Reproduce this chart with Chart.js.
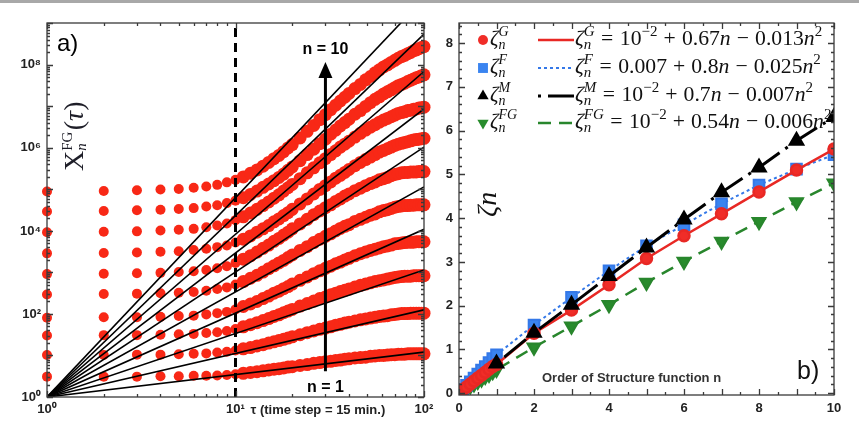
<!DOCTYPE html>
<html>
<head>
<meta charset="utf-8">
<script src="https://cdn.jsdelivr.net/npm/chart.js@4.4.0/dist/chart.umd.min.js"></script>
<style>
html, body { margin: 0; padding: 0; background: #fff; }
#wrap { position: relative; width: 859px; height: 422px; overflow: hidden; }
#topline { position: absolute; left: 0; top: 0; width: 859px; height: 3px; background: #a8a8a8; }
#left { position: absolute; left: 0; top: 0; }
#right { position: absolute; left: 430px; top: 0; }
</style>
</head>
<body>
<div id="wrap">
  <canvas id="left" width="440" height="422"></canvas>
  <canvas id="right" width="429" height="422"></canvas>
  <div id="topline"></div>
</div>
<script>
// Panel a) : structure functions X_n^FG(tau), values stored as log10
const TAU = [1,2,3,4,5,6,7,8,9,10,11,12,13,14,15,16,17,18,19,20,22,24,26,28,30,32,34,36,38,40,
  43,46,49,52,55,58,61,64,67,70,73,76,79,82,85,88,91,94,97,100];
const LOGX_N1 = [0.49,0.49,0.49,0.50,0.50,0.51,0.51,0.52,0.53,0.55,0.57,0.59,0.61,0.63,0.65,0.67,0.68,0.70,0.72,0.73,
  0.76,0.78,0.81,0.83,0.85,0.86,0.88,0.89,0.91,0.92,0.94,0.95,0.96,0.98,0.99,1.00,1.00,1.01,1.02,1.02,
  1.03,1.03,1.03,1.04,1.04,1.04,1.04,1.04,1.04,1.04];
const LOGX_N2 = [1.01,1.01,1.02,1.02,1.03,1.04,1.05,1.07,1.09,1.12,1.16,1.19,1.23,1.26,1.30,1.33,1.36,1.39,1.42,1.45,
  1.50,1.55,1.59,1.63,1.66,1.69,1.73,1.75,1.78,1.80,1.83,1.86,1.88,1.90,1.92,1.94,1.95,1.96,1.98,1.99,
  2.00,2.01,2.01,2.01,2.02,2.02,2.02,2.02,2.02,2.02];
const LOGX_N3 = [1.48,1.49,1.49,1.50,1.51,1.52,1.54,1.56,1.59,1.64,1.69,1.74,1.79,1.84,1.89,1.94,1.98,2.03,2.07,2.11,
  2.19,2.25,2.31,2.37,2.41,2.46,2.50,2.54,2.57,2.60,2.65,2.69,2.72,2.75,2.78,2.80,2.82,2.84,2.86,2.88,
  2.89,2.90,2.91,2.91,2.91,2.92,2.92,2.92,2.92,2.92];
const LOGX_N4 = [1.91,1.92,1.92,1.93,1.95,1.96,1.99,2.02,2.05,2.11,2.18,2.24,2.30,2.37,2.43,2.50,2.55,2.61,2.66,2.72,
  2.81,2.89,2.97,3.04,3.10,3.15,3.21,3.25,3.30,3.34,3.40,3.45,3.49,3.53,3.56,3.59,3.62,3.64,3.66,3.69,
  3.70,3.71,3.72,3.73,3.73,3.73,3.74,3.74,3.74,3.74];
const LOGX_N5 = [2.47,2.48,2.49,2.50,2.51,2.53,2.56,2.60,2.64,2.71,2.78,2.86,2.93,3.01,3.09,3.16,3.23,3.29,3.36,3.42,
  3.53,3.62,3.72,3.80,3.87,3.93,4.00,4.06,4.11,4.15,4.23,4.28,4.33,4.38,4.41,4.46,4.49,4.51,4.54,4.57,
  4.59,4.60,4.61,4.61,4.62,4.62,4.63,4.63,4.63,4.63];
const LOGX_N6 = [2.96,2.97,2.98,2.99,3.01,3.03,3.06,3.10,3.15,3.23,3.32,3.40,3.49,3.58,3.66,3.75,3.82,3.90,3.97,4.05,
  4.17,4.28,4.39,4.48,4.56,4.63,4.71,4.77,4.84,4.89,4.97,5.03,5.09,5.14,5.18,5.23,5.26,5.29,5.33,5.36,
  5.38,5.40,5.41,5.41,5.42,5.42,5.42,5.43,5.43,5.43];
const LOGX_N7 = [3.46,3.47,3.48,3.50,3.51,3.54,3.57,3.61,3.65,3.72,3.80,3.88,3.97,4.05,4.13,4.22,4.29,4.37,4.44,4.52,
  4.65,4.77,4.89,5.00,5.09,5.18,5.27,5.34,5.41,5.48,5.57,5.65,5.72,5.78,5.84,5.90,5.94,5.98,6.02,6.06,
  6.09,6.11,6.13,6.15,6.17,6.19,6.20,6.21,6.22,6.23];
const LOGX_N8 = [3.97,3.98,3.99,4.01,4.03,4.05,4.09,4.13,4.18,4.26,4.34,4.43,4.52,4.61,4.70,4.79,4.87,4.96,5.04,5.12,
  5.26,5.40,5.52,5.64,5.74,5.84,5.93,6.02,6.09,6.16,6.26,6.35,6.43,6.50,6.56,6.62,6.67,6.71,6.75,6.79,
  6.83,6.85,6.87,6.90,6.91,6.93,6.94,6.96,6.97,6.98];
const LOGX_N9 = [4.47,4.48,4.50,4.51,4.53,4.55,4.59,4.62,4.67,4.73,4.80,4.88,4.96,5.05,5.13,5.21,5.29,5.37,5.46,5.54,
  5.69,5.84,5.97,6.10,6.21,6.33,6.43,6.53,6.61,6.69,6.81,6.90,7.00,7.09,7.17,7.23,7.30,7.35,7.40,7.45,
  7.50,7.53,7.56,7.60,7.63,7.66,7.69,7.71,7.74,7.76];
const LOGX_N10 = [4.95,4.96,4.98,5.00,5.01,5.04,5.07,5.11,5.17,5.23,5.30,5.39,5.47,5.56,5.65,5.74,5.82,5.91,6.00,6.08,
  6.24,6.40,6.54,6.68,6.80,6.92,7.03,7.13,7.22,7.31,7.43,7.53,7.64,7.72,7.81,7.88,7.95,8.00,8.06,8.11,
  8.16,8.20,8.23,8.27,8.30,8.34,8.36,8.39,8.42,8.44];
const LOGX = [LOGX_N1, LOGX_N2, LOGX_N3, LOGX_N4, LOGX_N5, LOGX_N6, LOGX_N7, LOGX_N8, LOGX_N9, LOGX_N10];

// Panel b) : scaling exponents zeta_n
const ORDER_N = [0.1,0.2,0.3,0.4,0.5,0.6,0.7,0.8,0.9,1,2,3,4,5,6,7,8,9,10];
const ZETA_G  = [0.08,0.14,0.21,0.28,0.35,0.41,0.48,0.55,0.61,0.66,1.37,1.90,2.48,3.08,3.60,4.10,4.60,5.10,5.58];
const ZETA_F  = [0.09,0.18,0.26,0.35,0.44,0.53,0.61,0.70,0.79,0.88,1.56,2.19,2.80,3.37,3.85,4.33,4.76,5.12,5.45];
const ORDER_M = [1,2,3,4,5,6,7,8,9,10];
const ZETA_M  = [0.68,1.38,2.02,2.68,3.33,3.97,4.59,5.16,5.77,6.31];
const ZETA_FG = [0.05,0.10,0.16,0.21,0.27,0.32,0.38,0.43,0.49,0.54,1.05,1.53,2.02,2.53,3.01,3.47,3.92,4.37,4.80];

const X_TICKS = [1, 10, 100];
const X_TICK_LABELS = ['10\u2070', '10\u00b9', '10\u00b2'];
const Y_TICKS = [1, 1e2, 1e4, 1e6, 1e8];
const Y_TICK_LABELS = ['10\u2070', '10\u00b2', '10\u2074', '10\u2076', '10\u2078'];
const N_TICKS = [0, 2, 4, 6, 8, 10];
const Z_TICKS = [0, 1, 2, 3, 4, 5, 6, 7, 8];

const RED = 'rgb(248,40,22)';
const TICK_FONT = { family: 'Liberation Sans', size: 13, weight: 'bold' };
const SERIF = 'Liberation Serif';

// draw a run of math-like text: strings are roman, {i} italic, {sup,sub} stacked scripts
function drawMath(ctx, x, y, parts, S) {
  const f = (it, sz) => (it ? 'italic ' : '') + sz + 'px "' + SERIF + '"';
  ctx.textAlign = 'left';
  ctx.textBaseline = 'alphabetic';
  for (const p of parts) {
    if (typeof p === 'string') {
      ctx.font = f(false, S); ctx.fillText(p, x, y); x += ctx.measureText(p).width;
    } else if (p.sp) {
      x += p.sp * S;
    } else if (p.i) {
      ctx.font = f(true, S); ctx.fillText(p.i, x, y); x += ctx.measureText(p.i).width;
    } else {
      const s2 = Math.round(S * (p.r || 0.68));
      let w = 0;
      if (p.sup) {
        ctx.font = f(p.si, s2); ctx.fillText(p.sup, x, y - S * (p.up || 0.42));
        w = ctx.measureText(p.sup).width;
      }
      if (p.sub) {
        ctx.font = f(p.bi, s2); ctx.fillText(p.sub, x, y + S * (p.dn || 0.2));
        w = Math.max(w, ctx.measureText(p.sub).width);
      }
      x += w;
    }
  }
  return x;
}

const framePlugin = {
  id: 'frame',
  afterDraw(chart, args, o) {
    const { ctx, chartArea: a, scales: { x, y } } = chart;
    ctx.save();
    ctx.strokeStyle = '#3a3a3a';
    ctx.lineWidth = 1.3;
    ctx.strokeRect(a.left, a.top, a.right - a.left, a.bottom - a.top);
    ctx.beginPath();
    const xt = (vals, len) => vals.forEach(v => {
      const px = Math.round(x.getPixelForValue(v)) + 0.5;
      ctx.moveTo(px, a.bottom); ctx.lineTo(px, a.bottom - len);
      ctx.moveTo(px, a.top); ctx.lineTo(px, a.top + len);
    });
    const yt = (vals, len) => vals.forEach(v => {
      const py = Math.round(y.getPixelForValue(v)) + 0.5;
      ctx.moveTo(a.left, py); ctx.lineTo(a.left + len, py);
      ctx.moveTo(a.right, py); ctx.lineTo(a.right - len, py);
    });
    xt(o.xMajor, 6); xt(o.xMinor, 3);
    yt(o.yMajor, 6); yt(o.yMinor, 3);
    ctx.stroke();
    ctx.restore();
  }
};

function logMinor(d0, d1) {
  const out = [];
  for (let d = d0; d <= d1; d++) for (let k = 2; k <= 9; k++) out.push(k * Math.pow(10, d));
  return out;
}

// annotations of panel a)
const ARROW = { tau: 30, from: Math.pow(10, 0.62), to: Math.pow(10, 8.07) };
const leftDeco = {
  id: 'leftDeco',
  afterDraw(chart) {
    const { ctx, chartArea: a, scales: { x, y } } = chart;
    ctx.save();
    // arrow n = 1 -> n = 10
    const ax = x.getPixelForValue(ARROW.tau);
    const y0 = y.getPixelForValue(ARROW.from), y1 = y.getPixelForValue(ARROW.to);
    ctx.strokeStyle = '#000'; ctx.fillStyle = '#000';
    ctx.lineWidth = 3;
    ctx.beginPath(); ctx.moveTo(ax, y0); ctx.lineTo(ax, y1 + 14); ctx.stroke();
    ctx.beginPath(); ctx.moveTo(ax, y1); ctx.lineTo(ax - 7, y1 + 16); ctx.lineTo(ax + 7, y1 + 16); ctx.closePath(); ctx.fill();
    ctx.font = 'bold 16px "Liberation Sans"';
    ctx.textAlign = 'center'; ctx.textBaseline = 'alphabetic';
    ctx.fillText('n = 10', ax, y1 - 8);
    ctx.fillText('n = 1', ax, y0 + 21);
    // panel tag
    ctx.textAlign = 'left';
    ctx.font = '24px "Liberation Sans"';
    ctx.fillText('a)', a.left + 10, a.top + 28);
    // x title next to the 10^1 label
    ctx.font = 'bold 13px "Liberation Sans"';
    ctx.fillStyle = '#222';
    ctx.fillText('\u03c4 (time step = 15 min.)', x.getPixelForValue(10) + 15, 414);
    // y title, rotated
    ctx.fillStyle = '#1e1e28';
    ctx.translate(a.left + 36, a.top + 148);
    ctx.rotate(-Math.PI / 2);
    drawMath(ctx, 0, 0, ['X', { sup: 'FG', sub: 'n', bi: true, r: 0.52, up: 0.38, dn: 0.12 }, { sp: 0.05 }, '(', { i: '\u03c4' }, ')'], 28);
    ctx.restore();
  }
};

// annotations of panel b)
const LEGEND_ROWS = [
  { base: 45, sup: 'G', fit: ['10', { sup: '\u22122' }, { sp: 0.28 }, '+', { sp: 0.28 }, '0.67', { i: 'n' }, { sp: 0.28 }, '\u2212', { sp: 0.28 }, '0.013', { i: 'n' }, { sup: '2' }] },
  { base: 73, sup: 'F', fit: ['0.007', { sp: 0.28 }, '+', { sp: 0.28 }, '0.8', { i: 'n' }, { sp: 0.28 }, '\u2212', { sp: 0.28 }, '0.025', { i: 'n' }, { sup: '2' }] },
  { base: 101, sup: 'M', fit: ['10', { sup: '\u22122' }, { sp: 0.28 }, '+', { sp: 0.28 }, '0.7', { i: 'n' }, { sp: 0.28 }, '\u2212', { sp: 0.28 }, '0.007', { i: 'n' }, { sup: '2' }] },
  { base: 128, sup: 'FG', fit: ['10', { sup: '\u22122' }, { sp: 0.28 }, '+', { sp: 0.28 }, '0.54', { i: 'n' }, { sp: 0.28 }, '\u2212', { sp: 0.28 }, '0.006', { i: 'n' }, { sup: '2' }] }
];
const rightDeco = {
  id: 'rightDeco',
  afterDraw(chart) {
    const { ctx, chartArea: a } = chart;
    ctx.save();
    LEGEND_ROWS.forEach((row, k) => {
      const ds = chart.data.datasets[k];
      const cy = row.base - 5;
      ctx.fillStyle = ds.backgroundColor;
      ctx.strokeStyle = ds.backgroundColor;
      Chart.helpers.drawPoint(ctx, {
        pointStyle: ds.pointStyle, radius: ds.pointRadius - 0.5, rotation: ds.rotation || 0, borderWidth: 0
      }, a.left + 24, cy);
      ctx.fillStyle = '#111';
      drawMath(ctx, a.left + 31, row.base, [{ i: '\u03b6' }, { sup: row.sup, sub: 'n', si: true, bi: true }], 21);
      // line sample
      ctx.save();
      ctx.strokeStyle = ds.borderColor; ctx.lineWidth = ds.borderWidth;
      ctx.setLineDash(ds.borderDash || []);
      ctx.beginPath(); ctx.moveTo(a.left + 79, cy); ctx.lineTo(a.left + 115, cy); ctx.stroke();
      ctx.restore();
      ctx.fillStyle = '#111';
      drawMath(ctx, a.left + 116, row.base,
        [{ i: '\u03b6' }, { sup: row.sup, sub: 'n', si: true, bi: true }, { sp: 0.3 }, '=', { sp: 0.3 }].concat(row.fit), 21.7);
    });
    ctx.fillStyle = '#111';
    ctx.save();
    ctx.translate(a.left + 37, a.top + 194);
    ctx.rotate(-Math.PI / 2);
    drawMath(ctx, 0, 0, [{ i: '\u03b6' }, { i: 'n' }], 28);
    ctx.restore();
    ctx.fillStyle = '#333';
    ctx.font = 'bold 13px "Liberation Sans"';
    ctx.textAlign = 'left';
    ctx.fillText('Order of Structure function n', a.left + 83, a.bottom - 13);
    ctx.fillStyle = '#111';
    ctx.font = '25px "Liberation Sans"';
    ctx.fillText('b)', a.right - 37, a.bottom - 16);
    ctx.restore();
  }
};

// ---------- left chart ----------
const redSets = LOGX.map((arr, k) => ({
  label: 'n = ' + (k + 1),
  data: TAU.map((t, i) => ({ x: t, y: Math.pow(10, arr[i]) })),
  backgroundColor: RED, borderWidth: 0,
  pointRadius: c => (c.raw && c.raw.x > 10 ? 6.5 : 5),
  showLine: false, clip: false, order: 3
}));
const FIT_EXP = ZETA_FG.filter((z, i) => ORDER_N[i] >= 1);
const fitSets = FIT_EXP.map((z, k) => ({
  label: 'fit ' + (k + 1),
  data: [TAU[0], TAU[TAU.length - 1]].map(t => ({ x: t, y: Math.pow(t, z) })),
  borderColor: '#000', borderWidth: 1.6, pointRadius: 0, showLine: true, order: 1
}));
const Y_MAX = 1.02e9;
const dashSet = {
  label: 'tau = 10',
  data: [{ x: 10, y: 1 }, { x: 10, y: Y_MAX }],
  borderColor: '#000', borderWidth: 3, borderDash: [9, 6], pointRadius: 0, showLine: true, order: 0
};

new Chart(document.getElementById('left'), {
  type: 'scatter',
  data: { datasets: redSets.concat(fitSets, [dashSet]) },
  options: {
    responsive: false, animation: false,
    layout: { padding: { top: 23, right: 16, left: 0, bottom: 0 } },
    plugins: {
      legend: { display: false }, tooltip: { enabled: false },
      frame: { xMajor: X_TICKS, xMinor: logMinor(0, 1), yMajor: [1,1e1,1e2,1e3,1e4,1e5,1e6,1e7,1e8,1e9], yMinor: logMinor(0, 8) }
    },
    scales: {
      x: {
        type: 'logarithmic', min: 1, max: 100,
        grid: { display: false, drawTicks: false }, border: { display: false },
        afterBuildTicks: s => { s.ticks = X_TICKS.map(v => ({ value: v })); },
        afterFit: s => { s.height = 25; },
        ticks: { callback: (v, i) => X_TICK_LABELS[i], font: TICK_FONT, color: '#222', padding: 5, maxRotation: 0, autoSkip: false }
      },
      y: {
        type: 'logarithmic', min: 1, max: Y_MAX,
        grid: { display: false, drawTicks: false }, border: { display: false },
        afterBuildTicks: s => { s.ticks = Y_TICKS.map(v => ({ value: v })); },
        afterFit: s => { s.width = 47; },
        ticks: { callback: (v, i) => Y_TICK_LABELS[i], font: TICK_FONT, color: '#222', padding: 6, autoSkip: false }
      }
    }
  },
  plugins: [framePlugin, leftDeco]
});

// ---------- right chart ----------
new Chart(document.getElementById('right'), {
  type: 'scatter',
  data: {
    datasets: [
      { label: 'zeta G', data: ORDER_N.map((n, i) => ({ x: n, y: ZETA_G[i] })), showLine: true,
        borderColor: 'rgb(232,40,36)', backgroundColor: 'rgb(240,45,40)', borderWidth: 2.5,
        pointStyle: 'circle', pointRadius: 5.5, order: 1 },
      { label: 'zeta F', data: ORDER_N.map((n, i) => ({ x: n, y: ZETA_F[i] })), showLine: true,
        borderColor: 'rgb(52,120,232)', backgroundColor: 'rgb(58,132,240)', borderWidth: 2, borderDash: [3, 3],
        pointStyle: 'rect', pointRadius: 7.5, order: 2 },
      { label: 'zeta M', data: ORDER_M.map((n, i) => ({ x: n, y: ZETA_M[i] })), showLine: true,
        borderColor: '#000', backgroundColor: '#000', borderWidth: 3, borderDash: [3, 7, 28, 7],
        pointStyle: 'triangle', pointRadius: 7, order: 0 },
      { label: 'zeta FG', data: ORDER_N.map((n, i) => ({ x: n, y: ZETA_FG[i] })), showLine: true,
        borderColor: 'rgb(40,134,44)', backgroundColor: 'rgb(40,140,44)', borderWidth: 2.5, borderDash: [13, 8],
        pointStyle: 'triangle', rotation: 180, pointRadius: 7, order: 3 }
    ]
  },
  options: {
    responsive: false, animation: false,
    layout: { padding: { top: 23, right: 25, left: 0, bottom: 0 } },
    plugins: {
      legend: { display: false }, tooltip: { enabled: false },
      frame: {
        xMajor: [0,1,2,3,4,5,6,7,8,9,10], xMinor: [0.5,1.5,2.5,3.5,4.5,5.5,6.5,7.5,8.5,9.5],
        yMajor: Z_TICKS, yMinor: [0.2,0.4,0.6,0.8,1.2,1.4,1.6,1.8,2.2,2.4,2.6,2.8,3.2,3.4,3.6,3.8,4.2,4.4,4.6,4.8,
          5.2,5.4,5.6,5.8,6.2,6.4,6.6,6.8,7.2,7.4,7.6,7.8,8.2,8.4]
      }
    },
    scales: {
      x: {
        type: 'linear', min: 0, max: 10,
        grid: { display: false, drawTicks: false }, border: { display: false },
        afterBuildTicks: s => { s.ticks = N_TICKS.map(v => ({ value: v })); },
        afterFit: s => { s.height = 27; },
        ticks: { font: TICK_FONT, color: '#222', padding: 6, maxRotation: 0, autoSkip: false }
      },
      y: {
        type: 'linear', min: -0.04, max: 8.46,
        grid: { display: false, drawTicks: false }, border: { display: false },
        afterBuildTicks: s => { s.ticks = Z_TICKS.map(v => ({ value: v })); },
        afterFit: s => { s.width = 29; },
        ticks: { font: TICK_FONT, color: '#222', padding: 6, autoSkip: false }
      }
    }
  },
  plugins: [framePlugin, rightDeco]
});
</script>
</body>
</html>
